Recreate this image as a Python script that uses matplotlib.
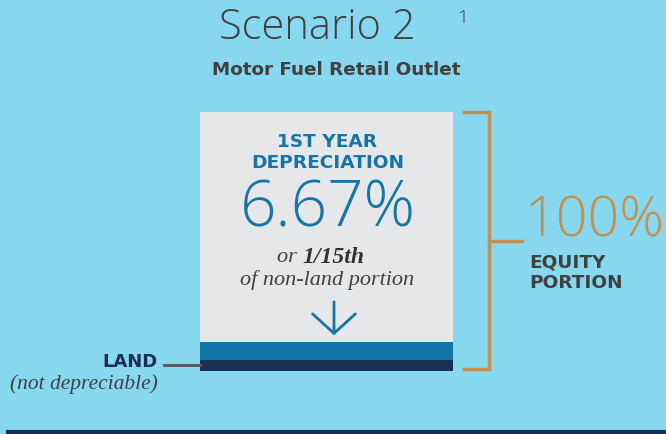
import matplotlib.pyplot as plt
from matplotlib.patches import Rectangle

# chart values
title = 'Scenario 2'
subtitle = 'Motor Fuel Retail Outlet'
depr_rate = 6.67          # % first year
depr_years = 15
equity_pct = 100
# stack of the bar, top to bottom: (label, height in px, colour)
bands = ['non-land', 'building', 'land']
band_heights = [230, 18, 11]
band_colors = ['#E6E7E9', '#1273A8', '#1B2F55']

bg = '#87D8EE'
gold = '#C4904E'
blue = '#1574A9'
navy = '#1B2F55'
grey = '#404040'

fig = plt.figure(figsize=(6.66, 4.35), dpi=100)
fig.patch.set_facecolor(bg)
ax = fig.add_axes([0, 0, 1, 1])
ax.set_xlim(0, 666)
ax.set_ylim(435, 0)
ax.axis('off')

thin = ['Open Sans', 'DejaVu Sans']
bold = ['DejaVu Sans']
serif = ['Liberation Serif', 'DejaVu Serif']

# title
ax.text(317, 28, title, ha='center', va='center', fontsize=30, color=grey,
        family=thin, fontweight='light')
ax.text(463, 18, '1', ha='center', va='center', fontsize=14, color=grey,
        family=thin, fontweight='light')
ax.text(336, 70, subtitle, ha='center', va='center', fontsize=13.2,
        color=grey, family=bold, fontweight='bold')

# stacked bar
x0, w = 200, 253
y = 113
for name, h, c in zip(bands, band_heights, band_colors):
    ax.add_patch(Rectangle((x0, y), w, h, facecolor=c, edgecolor='none'))
    y += h

cx = x0 + w / 2 + 1
ax.text(cx, 142, '1ST YEAR', ha='center', va='center', fontsize=13.3,
        color=blue, family=bold, fontweight='bold')
ax.text(cx, 163, 'DEPRECIATION', ha='center', va='center', fontsize=13.3,
        color=blue, family=bold, fontweight='bold')
ax.text(cx, 210, f'{depr_rate:.2f}%', ha='center', va='center', fontsize=46,
        color=blue, family=thin, fontweight='light')
ax.text(302, 258, 'or ', ha='right', va='center', fontsize=16,
        color=grey, family=serif, style='italic')
ax.text(302, 258, f'1/{depr_years}th', ha='left', va='center', fontsize=17,
        color='#333333', family=serif, style='italic', fontweight='bold')
ax.text(cx, 280, 'of non-land portion', ha='center', va='center', fontsize=16,
        color=grey, family=serif, style='italic')
ax.annotate('', xy=(334, 339), xytext=(334, 300),
            arrowprops=dict(arrowstyle='->,head_length=0.5,head_width=0.55',
                            color=blue, lw=2, mutation_scale=28))

# land label
ax.plot([164, 200], [366, 366], color='#555555', lw=2)
ax.text(158, 362, 'LAND', ha='right', va='center', fontsize=13,
        color=navy, family=bold, fontweight='bold')
ax.text(158, 384, '(not depreciable)', ha='right', va='center', fontsize=15.5,
        color=grey, family=serif, style='italic')

# equity bracket
ax.plot([464, 489, 489, 464], [113, 113, 370, 370], color=gold, lw=2.5,
        solid_joinstyle='miter')
ax.plot([489, 522], [242, 242], color=gold, lw=2.5)
ax.text(525, 222, f'{equity_pct}%', ha='left', va='center', fontsize=40,
        color=gold, family=thin, fontweight='light')
ax.text(529, 263, 'EQUITY', ha='left', va='center', fontsize=13.3,
        color=grey, family=bold, fontweight='bold')
ax.text(529, 283, 'PORTION', ha='left', va='center', fontsize=13.3,
        color=grey, family=bold, fontweight='bold')

# bottom rule
ax.plot([6, 666], [433, 433], color=navy, lw=3, solid_capstyle='butt')

fig.savefig('out.png', dpi=100, facecolor=bg)
